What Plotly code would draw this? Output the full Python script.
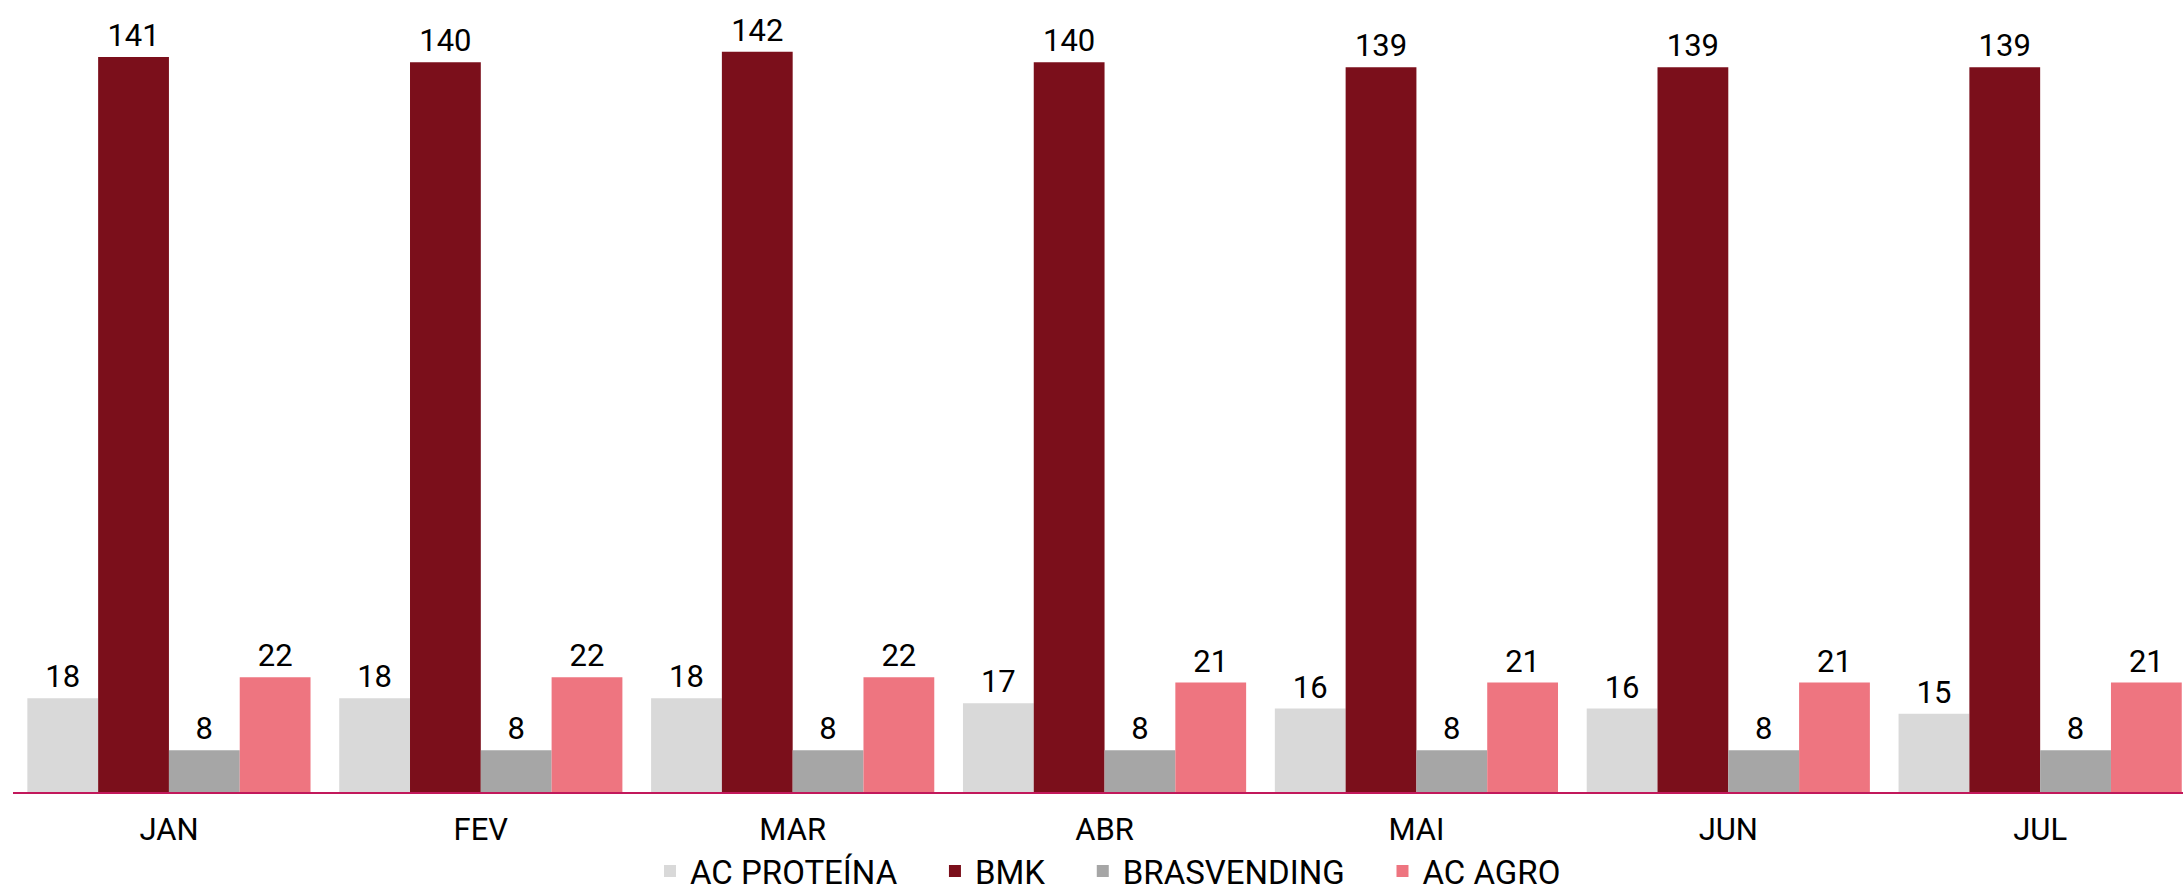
import plotly.graph_objects as go

months = ["JAN", "FEV", "MAR", "ABR", "MAI", "JUN", "JUL"]
ac_proteina = [18, 18, 18, 17, 16, 16, 15]
bmk = [141, 140, 142, 140, 139, 139, 139]
brasvending = [8, 8, 8, 8, 8, 8, 8]
ac_agro = [22, 22, 22, 21, 21, 21, 21]

NB = "\u00a0" * 4
series = [
    ("AC PROTEÍNA" + NB, ac_proteina, "#D9D9D9"),
    ("BMK" + NB, bmk, "#7B0F1B"),
    ("BRASVENDING" + NB, brasvending, "#A6A6A6"),
    ("AC AGRO", ac_agro, "#EE7580"),
]

FONT = "Roboto"

fig = go.Figure()
for name, vals, color in series:
    fig.add_trace(go.Bar(
        x=months, y=vals, name=name,
        marker=dict(color=color, line=dict(width=0)),
        text=vals, textposition="outside", cliponaxis=False,
        constraintext="none",
        textfont=dict(family=FONT, size=31, color="#000000"),
    ))

fig.update_layout(
    width=2183, height=892,
    paper_bgcolor="white", plot_bgcolor="white",
    barmode="group", bargap=0.092, bargroupgap=0,
    margin=dict(l=13, r=0, t=10, b=100, autoexpand=False),
    font=dict(family=FONT, color="#000000"),
    showlegend=True,
    legend=dict(
        orientation="h", x=0.5046, xanchor="center",
        yref="container", y=0.0235, yanchor="middle",
        font=dict(family=FONT, size=33, color="#000000"),
        itemwidth=30, tracegroupgap=0,
    ),
    xaxis=dict(
        type="category", range=[-0.5, 6.458],
        showline=True, linecolor="#C2185B", linewidth=1.5,
        showgrid=False, ticks="", zeroline=False,
        ticklabelstandoff=9, automargin=False,
        tickfont=dict(family=FONT, size=31, color="#000000"),
    ),
    yaxis=dict(
        range=[0, 150], visible=False, showgrid=False, zeroline=False,
        automargin=False,
    ),
)

fig.write_html(
    "out.html",
    config={"displayModeBar": False},
    post_script="document.body.style.margin='0';document.body.style.overflow='hidden';",
)
